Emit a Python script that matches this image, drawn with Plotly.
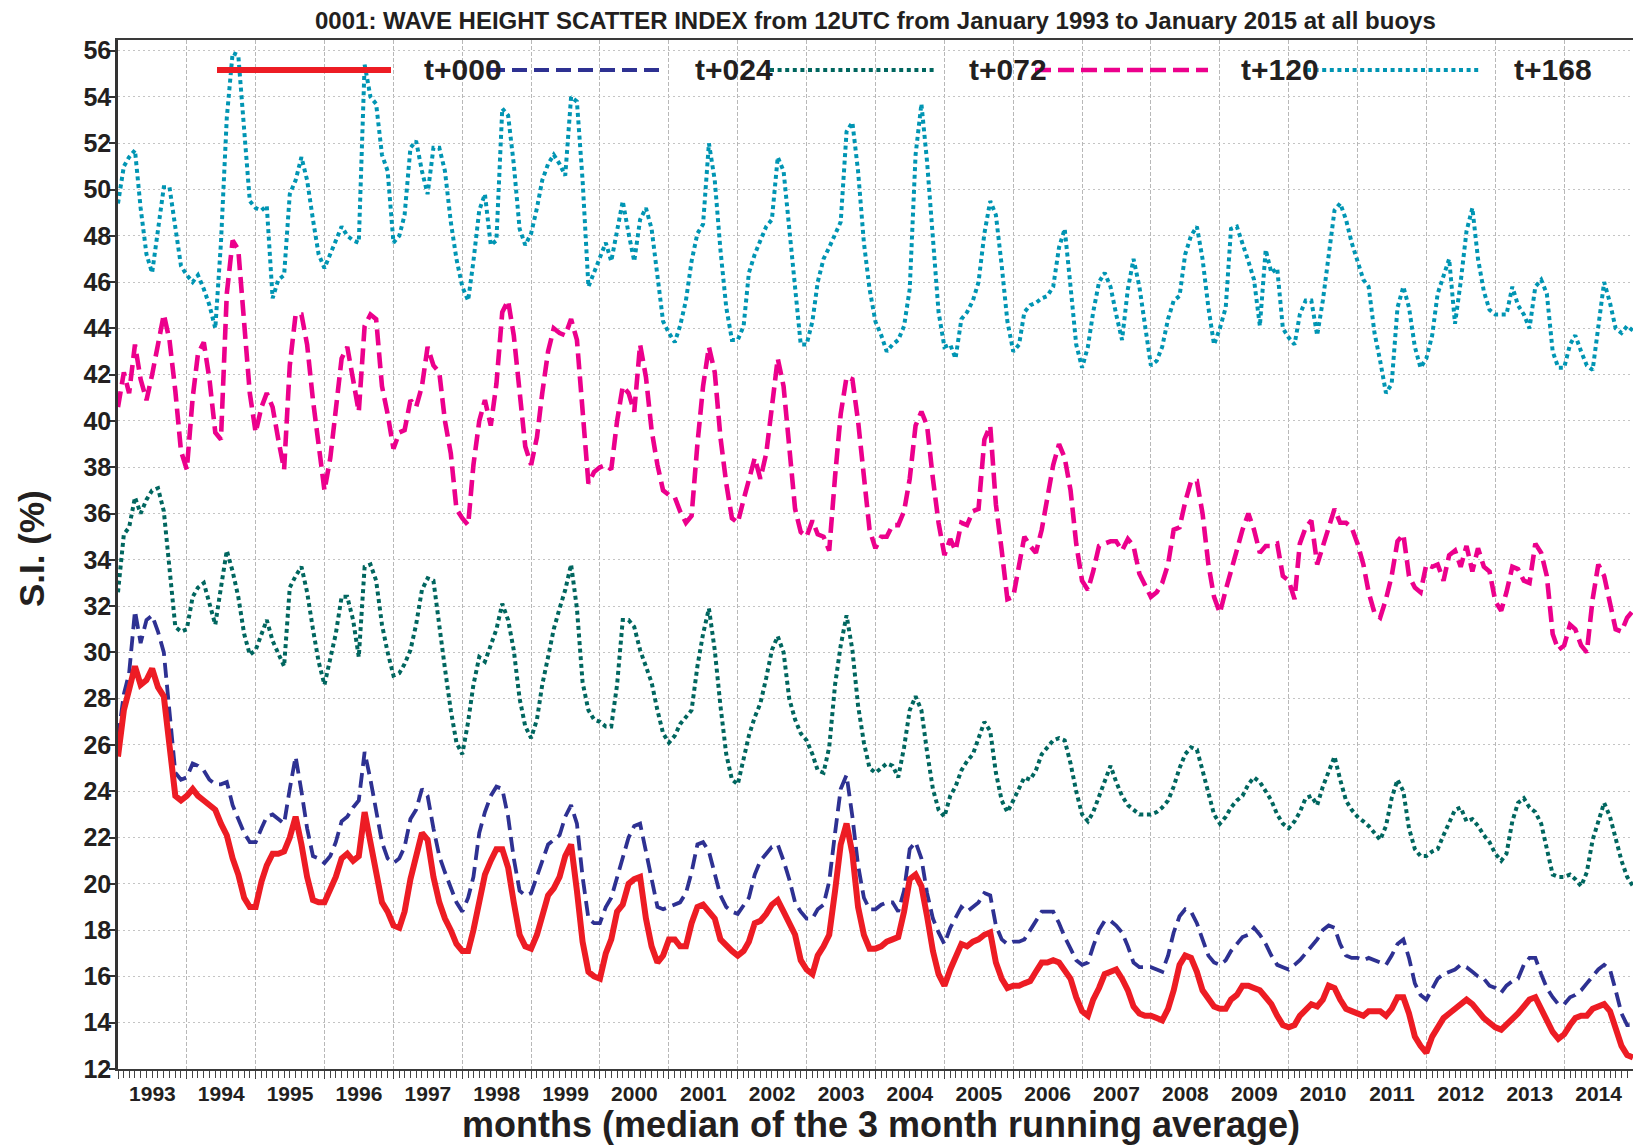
import pandas as pd
import plotly.graph_objects as go

# Monthly scatter index (%) per forecast step, Jan 1993 .. Jan 2015 (one row per year)
si_t000 = [
    25.5, 27.5, 28.4, 29.4, 28.6, 28.8, 29.3, 28.5, 28.1, 26.1, 23.8, 23.6,
    23.8, 24.1, 23.8, 23.6, 23.4, 23.2, 22.6, 22.1, 21.1, 20.4, 19.4, 19.0,
    19.0, 20.1, 20.8, 21.3, 21.3, 21.4, 22.0, 22.9, 21.7, 20.3, 19.3, 19.2,
    19.2, 19.7, 20.3, 21.1, 21.3, 21.0, 21.2, 23.1, 21.8, 20.3, 19.2, 18.8,
    18.2, 18.1, 18.8, 20.2, 21.1, 22.2, 21.9, 20.3, 19.2, 18.5, 18.0, 17.4,
    17.1, 17.1, 18.0, 19.4, 20.4, 21.0, 21.5, 21.5, 20.7, 19.2, 17.8, 17.3,
    17.2, 17.8, 18.6, 19.5, 19.8, 20.3, 21.2, 21.7, 19.7, 17.5, 16.2, 16.0,
    15.9, 17.0, 17.6, 18.8, 19.1, 20.0, 20.2, 20.3, 18.5, 17.3, 16.6, 16.9,
    17.6, 17.6, 17.3, 17.3, 18.3, 19.0, 19.1, 18.8, 18.5, 17.6, 17.3, 17.1,
    16.9, 17.1, 17.5, 18.3, 18.4, 18.7, 19.1, 19.3, 18.8, 18.3, 17.8, 16.7,
    16.3, 16.1, 16.9, 17.3, 17.8, 19.7, 21.7, 22.6, 21.3, 19.0, 17.8, 17.2,
    17.2, 17.3, 17.5, 17.6, 17.7, 18.8, 20.2, 20.4, 19.9, 18.6, 17.1, 16.1,
    15.6, 16.3, 16.8, 17.4, 17.3, 17.5, 17.6, 17.8, 17.9, 16.6, 15.9, 15.5,
    15.6, 15.6, 15.7, 15.8, 16.2, 16.6, 16.6, 16.7, 16.6, 16.3, 15.9, 15.1,
    14.5, 14.3, 15.0, 15.5, 16.1, 16.2, 16.3, 15.9, 15.4, 14.7, 14.4, 14.3,
    14.3, 14.2, 14.1, 14.6, 15.4, 16.5, 16.9, 16.8, 16.2, 15.4, 15.0, 14.7,
    14.6, 14.6, 15.0, 15.2, 15.6, 15.6, 15.5, 15.4, 15.1, 14.8, 14.3, 13.9,
    13.8, 13.9, 14.3, 14.6, 14.8, 14.7, 15.0, 15.6, 15.5, 15.0, 14.6, 14.5,
    14.4, 14.3, 14.5, 14.5, 14.5, 14.3, 14.6, 15.1, 15.1, 14.4, 13.4, 13.0,
    12.7, 13.4, 13.8, 14.2, 14.4, 14.6, 14.8, 15.0, 14.8, 14.5, 14.2, 14.0,
    13.8, 13.7, 13.9, 14.2, 14.4, 14.7, 15.0, 15.1, 14.6, 14.1, 13.6, 13.3,
    13.5, 13.9, 14.2, 14.3, 14.3, 14.6, 14.7, 14.8, 14.5, 13.8, 13.0, 12.6,
    12.5,
]

si_t024 = [
    26.3, 28.2, 29.1, 31.8, 30.4, 31.4, 31.6, 30.9, 30.0, 27.3, 24.8, 24.5,
    24.6, 25.2, 25.1, 24.9, 24.5, 24.3, 24.3, 24.4, 23.4, 22.8, 22.2, 21.8,
    21.8, 22.4, 22.9, 23.0, 22.8, 22.6, 24.1, 25.5, 24.0, 22.4, 21.2, 21.1,
    20.9, 21.2, 21.8, 22.7, 22.9, 23.3, 23.6, 25.7, 24.5, 23.1, 21.8, 21.1,
    20.9, 21.1, 21.6, 22.8, 23.2, 24.1, 23.8, 22.4, 21.2, 20.5, 19.8, 19.2,
    18.8, 19.4, 20.3, 22.2, 23.1, 23.8, 24.2, 24.1, 22.9, 21.1, 19.7, 19.5,
    19.6, 20.3, 21.0, 21.7, 21.9, 22.1, 22.9, 23.4, 22.6, 20.3, 18.5, 18.3,
    18.3, 19.0, 19.4, 20.3, 21.1, 22.0, 22.5, 22.6, 21.4, 20.3, 19.0, 18.9,
    19.0, 19.1, 19.2, 19.6, 20.5, 21.7, 21.8, 21.4, 20.4, 19.5, 19.0, 18.8,
    18.7, 19.1, 19.4, 20.4, 21.0, 21.3, 21.6, 21.7, 21.0, 20.2, 19.2, 18.8,
    18.5, 18.5, 18.9, 19.1, 20.1, 22.2, 24.1, 24.7, 22.9, 20.8, 19.4, 18.9,
    18.9, 19.1, 19.2, 19.2, 18.8, 19.7, 21.5, 21.8, 21.1, 19.6, 18.5, 17.9,
    17.4, 18.1, 18.5, 19.0, 18.8, 19.0, 19.2, 19.6, 19.5, 18.2, 17.6, 17.4,
    17.5, 17.5, 17.6, 18.0, 18.4, 18.8, 18.8, 18.8, 18.3, 17.7, 17.2, 16.7,
    16.5, 16.6, 17.3, 18.0, 18.4, 18.4, 18.2, 17.9, 17.3, 16.6, 16.4, 16.4,
    16.4, 16.3, 16.2, 16.9, 17.9, 18.6, 18.9, 18.8, 18.3, 17.6, 16.9, 16.6,
    16.5, 16.7, 17.1, 17.4, 17.7, 17.8, 18.1, 17.8, 17.4, 16.9, 16.5, 16.4,
    16.3, 16.5, 16.7, 17.0, 17.3, 17.6, 18.0, 18.2, 18.1, 17.4, 16.9, 16.8,
    16.8, 16.7, 16.8, 16.7, 16.6, 16.5, 16.9, 17.4, 17.6, 16.8, 15.7, 15.2,
    15.0, 15.5, 15.9, 16.1, 16.2, 16.3, 16.5, 16.4, 16.2, 16.0, 15.9, 15.6,
    15.5, 15.3, 15.6, 15.8, 15.9, 16.5, 16.8, 16.8, 16.1, 15.5, 15.1, 14.8,
    14.8, 15.1, 15.2, 15.4, 15.7, 16.0, 16.3, 16.5, 16.3, 15.4, 14.4, 13.9,
    13.9,
]

si_t072 = [
    32.6, 35.1, 35.4, 36.7, 36.0, 36.6, 37.0, 37.1, 36.1, 33.8, 31.1, 30.9,
    31.0, 32.4, 32.8, 33.0, 32.1, 31.2, 32.8, 34.4, 33.5, 32.4, 30.8, 29.9,
    30.1, 30.8, 31.4, 30.5, 30.0, 29.4, 32.8, 33.3, 33.7, 32.6, 31.0, 29.6,
    28.6, 29.7, 30.8, 32.4, 32.4, 31.4, 29.8, 33.7, 33.8, 33.1, 31.2, 30.0,
    29.0, 29.1, 29.5, 30.1, 31.2, 32.7, 33.2, 33.1, 31.0, 29.3, 27.5, 26.1,
    25.6, 27.0, 28.6, 29.8, 29.6, 30.3, 31.0, 32.1, 31.4, 30.1, 28.0, 26.8,
    26.3, 27.1, 28.6, 29.8, 31.0, 31.9, 32.7, 33.8, 31.9, 28.7, 27.5, 27.1,
    27.0, 26.8, 26.8, 28.6, 31.4, 31.4, 31.1, 30.1, 29.4, 28.7, 27.5, 26.5,
    26.1, 26.4, 26.9, 27.2, 27.5, 29.4, 30.8, 31.9, 30.1, 27.7, 25.6, 24.5,
    24.3, 25.4, 26.4, 27.2, 27.8, 28.9, 30.1, 30.7, 30.0, 28.0, 27.1, 26.5,
    26.2, 25.6, 24.9, 24.8, 25.9, 28.6, 30.3, 31.6, 30.1, 27.7, 26.1, 25.0,
    24.8, 25.0, 25.2, 25.1, 24.6, 25.9, 27.5, 28.1, 27.5, 25.7, 24.1, 23.2,
    22.9, 23.8, 24.2, 24.9, 25.3, 25.6, 26.3, 27.0, 26.6, 24.8, 23.6, 23.1,
    23.6, 24.1, 24.6, 24.5, 24.9, 25.6, 25.9, 26.2, 26.3, 26.2, 25.2, 24.0,
    23.0, 22.7, 23.1, 23.8, 24.4, 25.1, 24.4, 23.8, 23.4, 23.2, 23.0, 23.0,
    23.0, 23.1, 23.3, 23.6, 24.2, 25.0, 25.6, 25.9, 25.8, 24.9, 23.9, 23.0,
    22.6, 22.9, 23.3, 23.6, 23.8, 24.3, 24.6, 24.4, 24.0, 23.6, 23.0, 22.6,
    22.4, 22.7, 23.1, 23.7, 23.8, 23.4, 24.2, 24.9, 25.5, 24.5, 23.6, 23.2,
    22.9, 22.7, 22.5, 22.2, 21.9, 22.5, 23.7, 24.5, 24.0, 22.4, 21.5, 21.2,
    21.2, 21.4, 21.5, 22.1, 22.6, 23.2, 23.3, 22.7, 22.8, 22.5, 22.1, 21.8,
    21.3, 21.0, 21.3, 22.7, 23.5, 23.7, 23.3, 23.1, 22.6, 21.5, 20.4, 20.3,
    20.3, 20.4, 20.2, 19.9, 20.5, 21.9, 22.7, 23.5, 22.9, 22.0, 21.0, 20.3,
    19.9,
]

si_t120 = [
    40.6, 42.1, 41.2, 43.3, 41.8, 40.9, 42.0, 43.4, 44.6, 43.5, 41.3, 38.7,
    37.9, 41.0, 42.9, 43.4, 41.8, 39.5, 39.2, 45.5, 47.8, 47.4, 44.1, 41.2,
    39.5, 40.6, 41.2, 40.6, 39.2, 37.9, 42.4, 44.6, 44.6, 43.3, 40.9, 39.0,
    37.0, 38.4, 40.6, 42.7, 43.2, 41.8, 40.4, 44.1, 44.6, 44.4, 41.5, 40.3,
    38.8, 39.5, 39.6, 40.9, 40.6, 41.5, 43.2, 42.4, 42.1, 40.0, 38.6, 36.2,
    35.8, 35.5, 38.1, 40.0, 40.9, 39.8, 41.6, 44.7, 45.2, 43.7, 41.2, 38.9,
    38.1, 39.3, 41.2, 43.0, 44.0, 43.8, 43.7, 44.4, 43.5, 40.4, 37.3, 37.8,
    38.0, 38.1, 37.9, 40.0, 41.5, 41.2, 40.4, 43.3, 41.9, 39.6, 38.1, 37.0,
    36.8, 36.7, 36.1, 35.6, 35.9, 39.0, 41.5, 43.2, 42.1, 39.3, 37.3, 35.8,
    35.6, 36.6, 37.5, 38.4, 37.5, 38.6, 40.6, 42.7, 41.5, 38.7, 36.2, 35.2,
    35.0, 35.7, 35.1, 35.0, 34.4, 37.6, 40.3, 41.9, 41.8, 40.0, 37.6, 35.3,
    34.5, 35.0, 35.0, 35.5, 35.5, 36.1, 37.5, 39.8, 40.4, 39.8, 37.5, 35.6,
    34.2, 34.9, 34.4, 35.6, 35.5, 36.1, 36.2, 39.2, 39.8, 36.4, 34.4, 32.3,
    32.4, 33.8, 35.0, 34.6, 34.3, 35.3, 36.8, 38.1, 39.0, 38.4, 37.0, 34.7,
    33.1, 32.7, 33.5, 34.6, 34.7, 34.8, 34.8, 34.4, 34.9, 34.6, 33.4, 32.9,
    32.4, 32.6, 33.0, 33.8, 35.3, 35.4, 36.5, 37.4, 37.4, 36.0, 33.8, 32.4,
    31.7, 32.7, 33.5, 34.4, 35.3, 36.0, 35.3, 34.3, 34.6, 34.6, 34.7, 33.3,
    33.1, 32.3, 34.7, 35.4, 35.7, 33.8, 34.6, 35.4, 36.2, 35.6, 35.6, 35.4,
    34.7, 33.8, 32.6, 31.7, 31.5, 32.3, 33.3, 34.8, 35.1, 33.3, 32.8, 32.6,
    33.8, 33.7, 33.8, 33.1, 34.2, 34.4, 33.7, 34.6, 33.5, 34.5, 33.7, 33.5,
    32.2, 31.8, 32.6, 33.7, 33.6, 33.1, 33.0, 34.7, 34.3, 33.3, 30.8, 30.1,
    30.3, 31.2, 31.0, 30.3, 30.0, 32.3, 33.8, 33.3, 32.1, 31.0, 30.9, 31.5,
    31.8,
]

si_t168 = [
    49.4, 51.0, 51.4, 51.7, 49.2, 47.2, 46.4, 48.3, 50.1, 50.1, 48.3, 46.7,
    46.3, 46.0, 46.3, 45.7, 45.0, 44.0, 47.7, 53.1, 55.9, 55.8, 52.6, 49.5,
    49.2, 49.1, 49.3, 45.3, 46.1, 46.3, 49.8, 50.4, 51.4, 50.4, 48.7, 47.2,
    46.6, 47.2, 47.8, 48.4, 48.0, 47.8, 47.7, 55.4, 54.0, 53.7, 51.5, 50.8,
    47.7, 48.0, 48.9, 51.8, 52.1, 50.8, 49.8, 51.8, 51.8, 50.8, 48.6, 47.0,
    45.8, 45.2, 46.9, 49.1, 49.8, 47.6, 47.8, 53.5, 53.2, 51.1, 48.3, 47.6,
    48.1, 49.2, 50.4, 51.1, 51.5, 51.1, 50.6, 54.0, 53.8, 50.4, 45.8, 46.4,
    47.0, 47.7, 46.9, 48.3, 49.5, 48.1, 46.9, 48.7, 49.2, 48.3, 46.4, 44.3,
    43.8, 43.4, 44.1, 45.2, 46.9, 48.1, 48.5, 52.0, 50.4, 47.4, 44.9, 43.5,
    43.5, 44.1, 46.4, 47.2, 47.8, 48.4, 48.7, 51.4, 50.8, 48.4, 45.8, 43.3,
    43.3, 44.3, 46.0, 47.0, 47.5, 48.1, 48.6, 52.5, 52.9, 50.8, 47.7, 45.7,
    44.3, 43.7, 43.0, 43.3, 43.5, 44.1, 45.7, 51.5, 53.7, 51.2, 47.7, 44.7,
    43.2, 43.3, 42.7, 44.4, 44.7, 45.2, 46.0, 48.1, 49.5, 48.9, 46.7, 44.3,
    43.0, 43.3, 44.7, 45.0, 45.1, 45.3, 45.4, 45.8, 47.5, 48.3, 45.8, 43.3,
    42.3, 43.2, 44.7, 46.0, 46.4, 45.8, 44.6, 43.5, 45.7, 47.0, 45.8, 44.1,
    42.4, 42.6, 43.2, 44.4, 45.2, 45.4, 47.2, 48.0, 48.4, 47.0, 44.9, 43.3,
    44.0, 44.9, 48.3, 48.4, 47.7, 46.9, 46.1, 44.1, 47.4, 46.4, 46.6, 44.0,
    43.6, 43.3, 44.6, 45.2, 45.2, 43.7, 45.2, 47.0, 49.1, 49.4, 48.7, 47.7,
    46.9, 46.1, 45.8, 43.8, 42.6, 41.2, 41.6, 44.9, 45.8, 44.9, 43.2, 42.3,
    42.7, 43.7, 45.5, 46.3, 47.0, 44.2, 46.0, 48.2, 49.2, 47.0, 45.6, 44.8,
    44.6, 44.6, 44.6, 45.8, 45.0, 44.6, 44.0, 45.8, 46.1, 45.5, 43.0, 42.3,
    42.3, 43.3, 43.7, 43.0, 42.4, 42.2, 44.1, 46.0, 45.1, 44.0, 43.8, 44.1,
    43.9,
]

series_names = ["t+000", "t+024", "t+072", "t+120", "t+168"]
series_values = [si_t000, si_t024, si_t072, si_t120, si_t168]

y_ticks = list(range(12, 57, 2))

TITLE = "0001: WAVE HEIGHT SCATTER INDEX from 12UTC from January 1993 to January 2015 at all buoys"
X_TITLE = "months (median of the 3 month running average)"
Y_TITLE = "S.I. (%)"

# line styles: colour, width, dash pattern
styles = {
    "t+000": ("#ED1C24", 6.0, "solid"),
    "t+024": ("#2E3192", 3.8, "15px,7px"),
    "t+072": ("#00665F", 4.0, "4px,3.6px"),
    "t+120": ("#EC008C", 4.6, "16px,7px"),
    "t+168": ("#0095B3", 4.0, "4px,3.6px"),
}

FONT = "Liberation Sans, Arial, Helvetica, sans-serif"
INK = "#231F20"

W, H = 1633, 1147
M_L, M_R, M_T, M_B = 118, 0, 40, 78
PW, PH = W - M_L - M_R, H - M_T - M_B


def px_x(x):
    return (x - M_L) / PW


def px_y(y):
    return (H - M_B - y) / PH


fig = go.Figure()

# draw the longer lead times first so the analysis line sits on top
for name, vals in reversed(list(zip(series_names, series_values))):
    color, width, dash = styles[name]
    months = pd.date_range("1993-01-01", periods=len(vals), freq="MS")
    fig.add_trace(go.Scatter(
        x=months, y=vals, mode="lines", name=name,
        line=dict(color=color, width=width, dash=dash),
        hoverinfo="skip",
    ))

# in-plot legend: long line samples followed by the label
legend_y = px_y(70)
legend_items = [
    ("t+000", 217, 391, 422),
    ("t+024", 490, 663, 693),
    ("t+072", 770, 935, 967),
    ("t+120", 1035, 1208, 1239),
    ("t+168", 1307, 1480, 1512),
]
shapes = []
annotations = []
for name, x0, x1, xt in legend_items:
    color, width, dash = styles[name]
    shapes.append(dict(
        type="line", xref="paper", yref="paper",
        x0=px_x(x0), x1=px_x(x1), y0=legend_y, y1=legend_y,
        line=dict(color=color, width=width, dash=dash), layer="above",
    ))
    annotations.append(dict(
        text=name, xref="paper", yref="paper", x=px_x(xt), y=legend_y,
        xanchor="left", yanchor="middle", showarrow=False,
        font=dict(family=FONT, size=30, color=INK, weight="bold"),
    ))

annotations.append(dict(
    text=TITLE, xref="paper", yref="paper", x=0.5, y=px_y(20),
    xanchor="center", yanchor="middle", showarrow=False,
    font=dict(family=FONT, size=24, color=INK, weight="bold"),
))
annotations.append(dict(
    text=X_TITLE, xref="paper", yref="paper", x=px_x(881), y=px_y(1124),
    xanchor="center", yanchor="middle", showarrow=False,
    font=dict(family=FONT, size=36, color=INK, weight="bold"),
))
annotations.append(dict(
    text=Y_TITLE, xref="paper", yref="paper", x=px_x(31), y=px_y(549),
    xanchor="center", yanchor="middle", showarrow=False, textangle=-90,
    font=dict(family=FONT, size=35, color=INK, weight="bold"),
))

fig.update_layout(
    width=W, height=H,
    margin=dict(l=M_L, r=M_R, t=M_T, b=M_B, autoexpand=False),
    paper_bgcolor="white", plot_bgcolor="white",
    showlegend=False,
    shapes=shapes, annotations=annotations,
    font=dict(family=FONT, color=INK),
)

fig.update_xaxes(
    type="date", range=["1993-01-01", "2015-01-01"],
    tick0="1993-01-01", dtick="M12", tickformat="%Y", ticklabelmode="period",
    ticks="outside", ticklen=8, tickwidth=1.2, tickcolor="#444444",
    ticklabelstandoff=-3,
    tickfont=dict(family=FONT, size=21, color=INK, weight="bold"),
    showgrid=True, gridcolor="#B8B8B8", gridwidth=1.3, griddash="4px,2px",
    showline=True, linecolor="#3A3A3A", linewidth=2.2, mirror=True,
    zeroline=False,
    minor=dict(dtick="M1", ticks="outside", ticklen=7, tickwidth=1,
               tickcolor="#444444", showgrid=False),
)

fig.update_yaxes(
    range=[12, 56.46], tickvals=y_ticks,
    ticks="outside", ticklen=6, tickwidth=1.5, tickcolor="#333333",
    ticklabelstandoff=-7,
    tickfont=dict(family=FONT, size=25, color=INK, weight="bold"),
    showgrid=True, gridcolor="#C4C4C4", gridwidth=1, griddash="2px,3px",
    showline=True, linecolor="#333333", linewidth=2.6,
    zeroline=False,
)

fig.write_html("out.html")
